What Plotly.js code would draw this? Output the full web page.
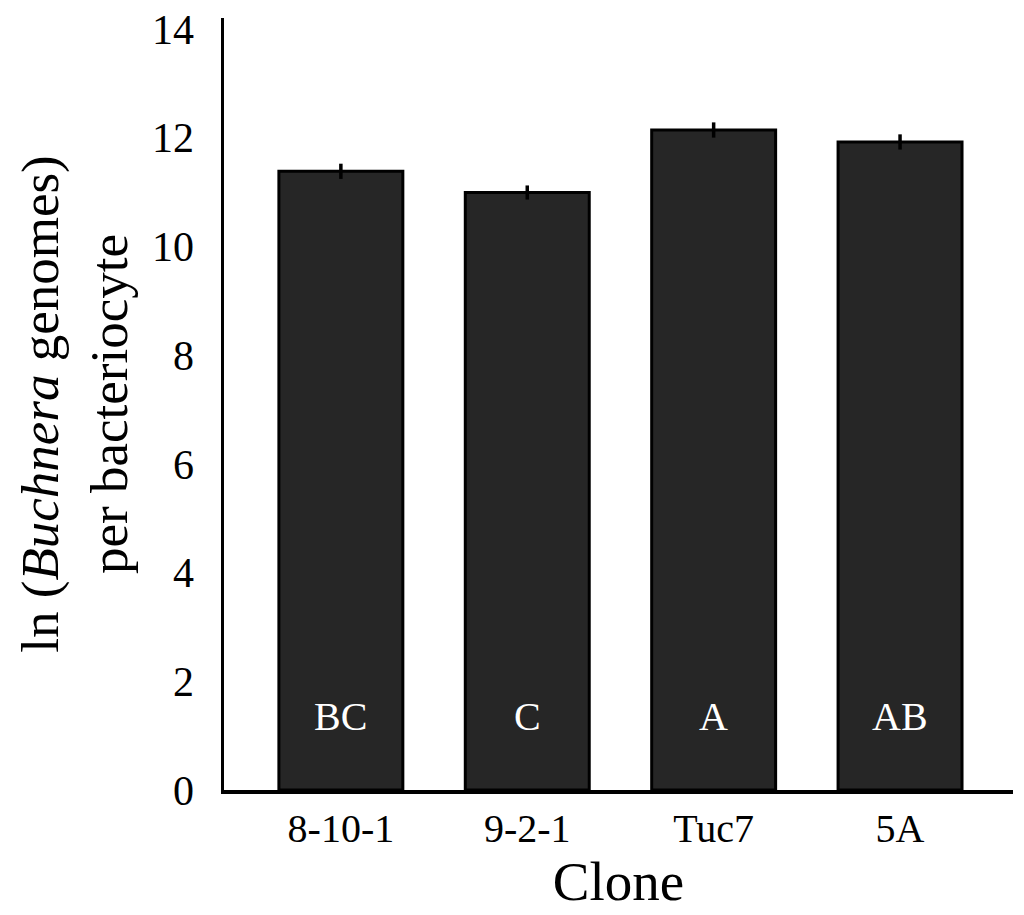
<!DOCTYPE html>
<html>
<head>
<meta charset="utf-8">
<script src="https://cdn.plot.ly/plotly-3.0.1.min.js"></script>
<style>
  html, body { margin: 0; padding: 0; background: #ffffff; }
  #chart { width: 1024px; height: 915px; }
</style>
</head>
<body>
<div id="chart"></div>
<script>
const clones = ["8-10-1", "9-2-1", "Tuc7", "5A"];
const lnGenomes = [11.38, 10.99, 12.14, 11.92];
const stdErr = [0.14, 0.13, 0.14, 0.14];
const groupLetters = ["BC", "C", "A", "AB"];
const yTicks = [0, 2, 4, 6, 8, 10, 12, 14];
const letterY = 1.36;

const serif = "Liberation Serif, Times New Roman, serif";

const trace = {
  type: "bar",
  x: clones,
  y: lnGenomes,
  marker: { color: "#262626", line: { color: "#000000", width: 3 } },
  error_y: { type: "data", array: stdErr, visible: true, color: "#000000", thickness: 3.5, width: 0 },
  hoverinfo: "skip"
};

const annotations = clones.map((c, i) => ({
  x: c, y: letterY, xref: "x", yref: "y",
  text: groupLetters[i], showarrow: false,
  font: { family: serif, size: 40, color: "#ffffff" },
  yanchor: "middle"
}));

const layout = {
  width: 1024, height: 915,
  margin: { l: 224, r: 11, t: 18, b: 125 },
  paper_bgcolor: "#ffffff", plot_bgcolor: "#ffffff",
  showlegend: false,
  bargap: 0.335,
  font: { family: serif, color: "#000000" },
  xaxis: {
    type: "category",
    range: [-0.627, 3.606],
    showline: true, linecolor: "#000000", linewidth: 3.5,
    showgrid: false, zeroline: false, ticks: "",
    tickfont: { family: serif, size: 40, color: "#000000" },
    title: { text: "Clone", font: { family: serif, size: 55, color: "#000000" }, standoff: 4 }
  },
  yaxis: {
    range: [0, 14.2],
    tickvals: yTicks,
    ticktext: yTicks.map(String),
    showline: true, linecolor: "#000000", linewidth: 3.5,
    showgrid: false, zeroline: false, ticks: "",
    ticklabelstandoff: 18,
    tickfont: { family: serif, size: 42, color: "#000000" },
    title: { text: "ln (<i>Buchnera</i> genomes)<br>per bacteriocyte", font: { family: serif, size: 53, color: "#000000" }, standoff: 8 }
  },
  annotations: annotations
};

Plotly.newPlot("chart", [trace], layout, { staticPlot: true, displayModeBar: false });
</script>
</body>
</html>
